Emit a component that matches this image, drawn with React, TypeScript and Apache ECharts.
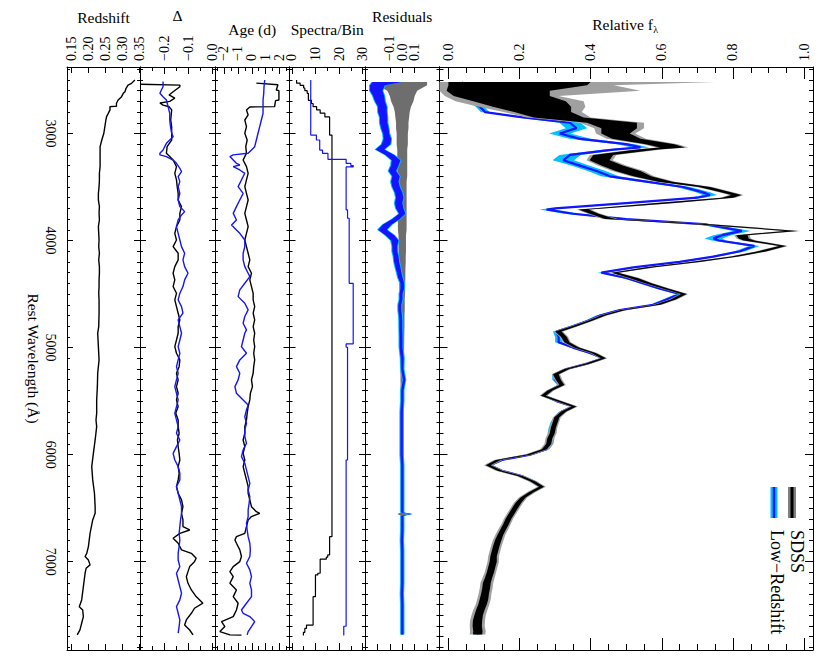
import React, { useEffect, useRef } from "react";
import * as echarts from "echarts";

const FONT = "'Liberation Serif','Times New Roman',Times,serif";

// ---------------- wavelength axis ----------------
const waveMin = 2379;
const waveMax = 7825;
const waveMajorTicks = [3000, 4000, 5000, 6000, 7000];

// ---------------- spectrum panel (Relative f_lambda) ----------------
const specWave = [
  2520, 2550, 2600, 2650, 2700, 2750, 2800, 2850, 2900, 2950,
  3000, 3050, 3100, 3130, 3150, 3200, 3250, 3300, 3350, 3400,
  3450, 3500, 3550, 3575, 3600, 3650, 3700, 3710, 3750, 3800,
  3850, 3910, 3950, 3980, 4000, 4050, 4100, 4150, 4200, 4250,
  4300, 4350, 4400, 4450, 4500, 4550, 4600, 4650, 4700, 4750,
  4800, 4850, 4900, 4950, 5000, 5050, 5100, 5150, 5200, 5250,
  5300, 5350, 5400, 5450, 5500, 5550, 5600, 5650, 5700, 5750,
  5800, 5850, 5900, 5950, 6000, 6050, 6100, 6150, 6200, 6250,
  6300, 6350, 6400, 6450, 6500, 6550, 6600, 6650, 6700, 6750,
  6800, 6850, 6900, 6950, 7000, 7050, 7100, 7150, 7200, 7250,
  7300, 7350, 7400, 7450, 7500, 7550, 7600, 7650, 7680,
];
const lowzFlux = [
  0.042, 0.035, 0.031, 0.037, 0.061, 0.089, 0.103, 0.21, 0.342, 0.36,
  0.313, 0.37, 0.5, 0.54, 0.463, 0.342, 0.323, 0.37, 0.417, 0.454,
  0.557, 0.66, 0.716, 0.735, 0.7, 0.5, 0.3, 0.276, 0.35, 0.5,
  0.726, 0.825, 0.77, 0.745, 0.76, 0.86, 0.82, 0.745, 0.65, 0.52,
  0.43, 0.5, 0.548, 0.595, 0.65, 0.613, 0.576, 0.482, 0.426, 0.393,
  0.35, 0.304, 0.31, 0.31, 0.35, 0.398, 0.435, 0.39, 0.332, 0.3,
  0.3, 0.314, 0.286, 0.27, 0.304, 0.35, 0.318, 0.304, 0.295, 0.29,
  0.287, 0.29, 0.287, 0.276, 0.23, 0.15, 0.117, 0.15, 0.206, 0.24,
  0.262, 0.234, 0.21, 0.197, 0.187, 0.178, 0.169, 0.162, 0.154, 0.145,
  0.14, 0.134, 0.131, 0.126, 0.126, 0.122, 0.117, 0.112, 0.108, 0.106,
  0.103, 0.1, 0.096, 0.089, 0.084, 0.081, 0.081, 0.084, 0.081,
];
const lowzErr = [
  0.01, 0.01, 0.01, 0.01, 0.01, 0.012, 0.012, 0.015, 0.03, 0.03,
  0.03, 0.03, 0.025, 0.025, 0.025, 0.03, 0.03, 0.025, 0.025, 0.025,
  0.02, 0.02, 0.02, 0.02, 0.02, 0.02, 0.02, 0.02, 0.025, 0.02,
  0.02, 0.025, 0.025, 0.025, 0.02, 0.015, 0.015, 0.012, 0.012, 0.012,
  0.01, 0.01, 0.01, 0.01, 0.01, 0.01, 0.01, 0.01, 0.01, 0.01,
  0.01, 0.01, 0.01, 0.01, 0.008, 0.008, 0.008, 0.008, 0.008, 0.008,
  0.008, 0.008, 0.008, 0.008, 0.008, 0.008, 0.008, 0.008, 0.008, 0.008,
  0.008, 0.008, 0.008, 0.008, 0.008, 0.008, 0.008, 0.008, 0.008, 0.008,
  0.008, 0.008, 0.008, 0.008, 0.008, 0.008, 0.008, 0.008, 0.008, 0.008,
  0.008, 0.008, 0.008, 0.008, 0.008, 0.008, 0.008, 0.008, 0.008, 0.008,
  0.008, 0.008, 0.008, 0.008, 0.008, 0.008, 0.008, 0.008, 0.008,
];
const sdssFlux = [
  0.2, 0.195, 0.14, 0.15, 0.2, 0.235, 0.265, 0.31, 0.46, 0.48,
  0.47, 0.5, 0.595, 0.63, 0.56, 0.435, 0.425, 0.46, 0.505, 0.545,
  0.61, 0.72, 0.78, 0.81, 0.785, 0.61, 0.42, 0.38, 0.41, 0.455,
  0.725, 0.965, 0.825, 0.83, 0.845, 0.94, 0.883, 0.805, 0.693, 0.568,
  0.468, 0.52, 0.562, 0.612, 0.662, 0.632, 0.588, 0.491, 0.435, 0.398,
  0.354, 0.309, 0.325, 0.333, 0.36, 0.408, 0.436, 0.39, 0.333, 0.302,
  0.309, 0.319, 0.286, 0.267, 0.309, 0.353, 0.323, 0.305, 0.3, 0.295,
  0.292, 0.285, 0.282, 0.27, 0.225, 0.14, 0.112, 0.145, 0.202, 0.238,
  0.262, 0.234, 0.21, 0.197, 0.187, 0.178, 0.169, 0.162, 0.154, 0.146,
  0.14, 0.135, 0.131, 0.127, 0.126, 0.122, 0.118, 0.113, 0.108, 0.106,
  0.103, 0.1, 0.096, 0.09, 0.085, 0.082, 0.081, 0.083, 0.082,
];
const sdssErr = [
  0.2, 0.195, 0.145, 0.135, 0.13, 0.11, 0.08, 0.07, 0.07, 0.05,
  0.04, 0.04, 0.04, 0.035, 0.03, 0.028, 0.028, 0.03, 0.035, 0.025,
  0.02, 0.016, 0.014, 0.014, 0.016, 0.025, 0.014, 0.014, 0.012, 0.015,
  0.022, 0.018, 0.016, 0.014, 0.015, 0.01, 0.012, 0.01, 0.013, 0.012,
  0.009, 0.012, 0.009, 0.008, 0.008, 0.007, 0.008, 0.007, 0.007, 0.006,
  0.007, 0.009, 0.008, 0.007, 0.007, 0.006, 0.007, 0.007, 0.007, 0.008,
  0.007, 0.007, 0.007, 0.007, 0.007, 0.007, 0.007, 0.007, 0.007, 0.007,
  0.007, 0.007, 0.007, 0.007, 0.007, 0.007, 0.007, 0.007, 0.007, 0.007,
  0.007, 0.007, 0.007, 0.008, 0.008, 0.008, 0.008, 0.008, 0.008, 0.008,
  0.009, 0.009, 0.009, 0.009, 0.01, 0.01, 0.01, 0.01, 0.011, 0.011,
  0.011, 0.012, 0.012, 0.012, 0.012, 0.013, 0.013, 0.013, 0.013,
];
const sdssGreyErr = [
  0.55, 0.27, 0.4, 0.16, 0.18, 0.15, 0.11, 0.09, 0.09, 0.07,
  0.055, 0.055, 0.05, 0.045, 0.04, 0.037, 0.037, 0.04, 0.045, 0.033,
  0.027, 0.022, 0.02, 0.02, 0.022, 0.032, 0.02, 0.02, 0.018, 0.021,
  0.03, 0.025, 0.022, 0.02, 0.021, 0.015, 0.017, 0.015, 0.018, 0.017,
  0.013, 0.017, 0.013, 0.012, 0.012, 0.011, 0.012, 0.011, 0.011, 0.01,
  0.011, 0.013, 0.012, 0.011, 0.011, 0.01, 0.011, 0.011, 0.011, 0.012,
  0.011, 0.011, 0.011, 0.011, 0.011, 0.011, 0.011, 0.011, 0.011, 0.011,
  0.012, 0.012, 0.012, 0.012, 0.012, 0.012, 0.012, 0.012, 0.012, 0.012,
  0.012, 0.012, 0.012, 0.013, 0.013, 0.013, 0.013, 0.013, 0.014, 0.014,
  0.015, 0.015, 0.015, 0.015, 0.016, 0.016, 0.016, 0.017, 0.018, 0.018,
  0.018, 0.019, 0.019, 0.02, 0.02, 0.021, 0.021, 0.022, 0.022,
];

// ---------------- residuals panel ----------------
const resWave = [
  2520, 2550, 2600, 2650, 2700, 2750, 2800, 2850, 2900, 2950,
  3000, 3050, 3100, 3150, 3200, 3250, 3300, 3350, 3400, 3450,
  3500, 3550, 3600, 3650, 3700, 3750, 3800, 3850, 3900, 3950,
  4000, 4050, 4100, 4150, 4200, 4250, 4300, 4350, 4400, 4450,
  4500, 4550, 4600, 4650, 4700, 4750, 4800, 4900, 5000, 5100,
  5200, 5300, 5400, 5500, 5600, 5700, 5800, 5900, 6000, 6100,
  6200, 6300, 6400, 6500, 6540, 6555, 6570, 6600, 6700, 6800,
  6900, 7000, 7100, 7200, 7300, 7400, 7500, 7600, 7680,
];
const resLowz = [
  -0.12, -0.2, -0.21, -0.19, -0.18, -0.16, -0.16, -0.15, -0.15, -0.14,
  -0.13, -0.12, -0.13, -0.18, -0.1, -0.05, -0.06, -0.08, -0.05, -0.06,
  -0.05, -0.03, -0.02, -0.03, -0.02, 0.0, -0.05, -0.12, -0.16, -0.1,
  -0.06, -0.06, -0.06, -0.05, -0.045, -0.035, -0.025, -0.015, 0.0, 0.0,
  -0.01, -0.01, -0.02, -0.02, -0.015, -0.012, -0.012, -0.01, -0.01, 0.0,
  0.0, 0.015, 0.0, 0.0, -0.005, -0.005, -0.005, -0.005, -0.005, 0.0,
  0.0, 0.0, 0.0, 0.0, 0.0, 0.07, 0.0, 0.0, 0.0, -0.003,
  0.0, 0.0, 0.0, 0.0, -0.003, 0.0, 0.0, 0.0, 0.0,
];
const resLowzScatter = [
  0.12, 0.06, 0.05, 0.045, 0.04, 0.035, 0.035, 0.03, 0.03, 0.03,
  0.025, 0.03, 0.035, 0.035, 0.035, 0.035, 0.03, 0.03, 0.03, 0.03,
  0.03, 0.03, 0.03, 0.03, 0.03, 0.025, 0.03, 0.035, 0.035, 0.035,
  0.03, 0.02, 0.02, 0.02, 0.02, 0.02, 0.018, 0.018, 0.015, 0.015,
  0.012, 0.012, 0.012, 0.012, 0.012, 0.012, 0.012, 0.012, 0.012, 0.012,
  0.01, 0.01, 0.01, 0.01, 0.01, 0.01, 0.01, 0.01, 0.01, 0.01,
  0.01, 0.01, 0.01, 0.01, 0.01, 0.01, 0.01, 0.01, 0.01, 0.01,
  0.01, 0.01, 0.01, 0.01, 0.01, 0.01, 0.01, 0.01, 0.01,
];
const resSdssErr = [
  0.2, 0.2, 0.12, 0.1, 0.09, 0.07, 0.06, 0.055, 0.05, 0.05,
  0.045, 0.045, 0.045, 0.04, 0.04, 0.04, 0.04, 0.04, 0.04, 0.035,
  0.035, 0.035, 0.035, 0.035, 0.035, 0.035, 0.035, 0.035, 0.035, 0.03,
  0.03, 0.03, 0.03, 0.028, 0.028, 0.026, 0.025, 0.025, 0.024, 0.022,
  0.022, 0.02, 0.02, 0.02, 0.018, 0.018, 0.018, 0.016, 0.015, 0.015,
  0.014, 0.014, 0.013, 0.013, 0.013, 0.012, 0.012, 0.012, 0.012, 0.012,
  0.011, 0.011, 0.011, 0.011, 0.011, 0.04, 0.011, 0.011, 0.011, 0.011,
  0.011, 0.011, 0.011, 0.011, 0.011, 0.011, 0.011, 0.011, 0.011,
];

// ---------------- spectra per bin (step edges; last edge closes the last bin) ----------------
const sdssBinEdges = [
  2500, 2530, 2550, 2575, 2600, 2625, 2690, 2720, 2750, 2780,
  2810, 2845, 3015, 6766, 6937, 6958, 6977, 7108, 7124, 7327,
  7592, 7623, 7660, 7690,
];
const sdssBinCounts = [
  2, 3.5, 5, 5.5, 6.5, 7, 8.3, 9, 10.5, 12,
  14, 16, 17, 16, 15.2, 14.6, 12, 11, 10, 9,
  6.2, 5.5, 4.9,
];
const lowzBinEdges = [
  2500, 3015, 3061, 3155, 3185, 3241, 3279, 3300, 3312, 3714,
  3792, 4400, 4966, 4997, 6050, 7603, 7690,
];
const lowzBinCounts = [
  8, 10.4, 11.8, 13, 15.3, 23, 25, 26, 23, 23.6,
  24.3, 26, 23, 23.6, 23, 22,
];

// ---------------- Age (d) ----------------
const ageSdssWave = [
  2530, 2545, 2594, 2600, 2687, 2693, 2749, 2752, 2780, 2827,
  2874, 2936, 2998, 3061, 3123, 3185, 3216, 3248, 3310, 3372,
  3434, 3497, 3559, 3621, 3683, 3746, 3808, 3870, 3933, 3995,
  4057, 4119, 4181, 4244, 4306, 4368, 4430, 4493, 4555, 4617,
  4679, 4742, 4804, 4866, 4929, 4991, 5053, 5115, 5178, 5240,
  5302, 5365, 5427, 5489, 5551, 5614, 5676, 5738, 5800, 5863,
  5925, 5988, 6050, 6112, 6174, 6236, 6299, 6361, 6423, 6486,
  6533, 6548, 6579, 6610, 6672, 6735, 6766, 6797, 6828, 6890,
  6952, 6999, 7046, 7093, 7140, 7202, 7264, 7326, 7388, 7451,
  7513, 7560, 7606, 7653, 7684, 7686,
];
const ageSdss = [
  0.33, 1.88, 1.76, 1.95, 1.95, 1.71, 1.64, -0.14, -0.38, -0.26,
  -0.5, -0.38, -0.5, -0.33, -0.43, -0.38, -0.5, -0.62, -0.38, -0.26,
  -0.38, -0.5, -0.38, -0.26, -0.38, -0.5, -0.38, -0.26, -0.38, -0.5,
  -0.38, -0.26, -0.14, -0.26, -0.02, -0.14, -0.02, 0.1, 0.1, 0.21,
  0.1, 0.21, 0.1, 0.21, 0.14, 0.21, 0.14, 0.21, 0.14, 0.1,
  -0.02, 0.05, -0.1, -0.14, -0.26, -0.33, -0.38, -0.5, -0.5, -0.62,
  -0.5, -0.62, -0.5, -0.62, -0.5, -0.38, -0.26, -0.26, -0.14, -0.02,
  0.33, 0.57, -0.02, -0.26, -0.38, -0.5, -1.1, -1.21, -1.1, -0.86,
  -0.74, -0.86, -1.33, -1.57, -1.33, -1.57, -1.1, -1.33, -0.98, -1.1,
  -1.33, -2.17, -1.93, -2.29, -1.57, -0.74,
];
const ageLowzWave = [
  2500, 2563, 2625, 2687, 2749, 2812, 2874, 2936, 2998, 3061,
  3123, 3154, 3185, 3200, 3216, 3248, 3279, 3294, 3310, 3341,
  3372, 3434, 3497, 3559, 3621, 3683, 3746, 3808, 3855, 3901,
  3933, 3995, 4057, 4119, 4181, 4244, 4306, 4337, 4399, 4461,
  4524, 4586, 4648, 4710, 4773, 4835, 4866, 4929, 4991, 5053,
  5115, 5178, 5240, 5302, 5365, 5427, 5489, 5536, 5583, 5645,
  5707, 5769, 5832, 5894, 5956, 6019, 6081, 6143, 6205, 6268,
  6330, 6392, 6454, 6517, 6579, 6641, 6704, 6766, 6828, 6890,
  6952, 7015, 7077, 7140, 7202, 7264, 7326, 7388, 7451, 7482,
  7513, 7560, 7606, 7653, 7684,
];
const ageLowz = [
  0.93, 0.88, 0.86, 0.81, 0.81, 0.81, 0.69, 0.57, 0.45, 0.33,
  0.21, -0.02, -0.26, -1.33, -1.57, -1.33, -1.1, -0.86, -1.33, -0.86,
  -0.5, -0.74, -0.98, -0.62, -0.86, -1.1, -1.33, -1.1, -1.45, -1.1,
  -0.86, -0.5, -0.5, -0.62, -0.62, -0.5, -0.26, -0.14, -0.5, -0.86,
  -0.98, -0.5, -0.26, -0.5, -0.62, -0.38, -0.5, -0.62, -0.74, -0.38,
  -0.86, -1.1, -0.86, -0.98, -1.21, -1.1, -0.62, -0.26, -0.38, -0.5,
  -0.38, -0.5, -0.5, -0.38, -0.62, -0.74, -0.5, -0.38, -0.26, -0.14,
  -0.26, -0.14, -0.19, -0.26, -0.26, -0.38, -0.33, -0.26, -0.14, -0.1,
  -0.14, -0.38, -0.14, -0.02, -0.14, -0.02, -0.02, -0.38, -0.74, -0.62,
  -0.14, 0.21, -0.02, -0.26, -0.33,
];

// ---------------- Delta ----------------
const deltaSdssWave = [
  2540, 2548, 2563, 2610, 2640, 2670, 2700, 2715, 2735, 2750,
  2780, 2874, 2936, 2998, 3061, 3123, 3185, 3216, 3248, 3310,
  3372, 3434, 3497, 3559, 3621, 3683, 3746, 3808, 3870, 3933,
  3995, 4057, 4119, 4181, 4244, 4306, 4368, 4430, 4493, 4555,
  4617, 4679, 4742, 4804, 4866, 4929, 4991, 5053, 5115, 5178,
  5240, 5302, 5365, 5427, 5489, 5551, 5614, 5676, 5738, 5800,
  5863, 5925, 5988, 6050, 6112, 6174, 6236, 6299, 6361, 6423,
  6486, 6548, 6610, 6672, 6704, 6735, 6781, 6828, 6890, 6922,
  6968, 7000, 7046, 7093, 7140, 7202, 7264, 7326, 7388, 7435,
  7482, 7544, 7591, 7638, 7684,
];
const deltaSdss = [
  -0.3, -0.137, -0.137, -0.165, -0.182, -0.158, -0.179, -0.22, -0.207, -0.182,
  -0.171, -0.175, -0.171, -0.171, -0.171, -0.19, -0.193, -0.179, -0.165, -0.151,
  -0.158, -0.151, -0.148, -0.144, -0.144, -0.13, -0.137, -0.137, -0.151, -0.158,
  -0.151, -0.165, -0.144, -0.144, -0.158, -0.165, -0.158, -0.165, -0.151, -0.158,
  -0.151, -0.144, -0.137, -0.144, -0.144, -0.151, -0.158, -0.151, -0.137, -0.14,
  -0.151, -0.144, -0.151, -0.144, -0.151, -0.144, -0.154, -0.144, -0.144, -0.14,
  -0.147, -0.144, -0.14, -0.137, -0.144, -0.14, -0.144, -0.151, -0.144, -0.13,
  -0.124, -0.13, -0.124, -0.124, -0.096, -0.137, -0.165, -0.144, -0.13, -0.089,
  -0.069, -0.076, -0.096, -0.103, -0.11, -0.103, -0.089, -0.069, -0.041, -0.076,
  -0.089, -0.11, -0.117, -0.096, -0.082,
];
const deltaLowzWave = [
  2515, 2563, 2594, 2625, 2656, 2687, 2749, 2812, 2874, 2936,
  2998, 3030, 3061, 3092, 3123, 3154, 3185, 3200, 3216, 3248,
  3279, 3325, 3356, 3403, 3450, 3497, 3559, 3621, 3683, 3730,
  3761, 3808, 3870, 3933, 3995, 4057, 4119, 4181, 4244, 4306,
  4368, 4430, 4493, 4555, 4617, 4679, 4742, 4804, 4866, 4929,
  4991, 5053, 5115, 5178, 5240, 5302, 5365, 5427, 5489, 5551,
  5614, 5676, 5738, 5800, 5863, 5925, 5988, 6050, 6112, 6174,
  6236, 6299, 6361, 6423, 6486, 6548, 6610, 6672, 6735, 6797,
  6859, 6922, 6984, 7046, 7108, 7171, 7233, 7295, 7357, 7420,
  7482, 7544, 7606, 7668,
];
const deltaLowz = [
  -0.207, -0.207, -0.214, -0.22, -0.207, -0.193, -0.186, -0.179, -0.179, -0.176,
  -0.171, -0.165, -0.179, -0.193, -0.2, -0.207, -0.22, -0.22, -0.193, -0.165,
  -0.151, -0.137, -0.13, -0.144, -0.137, -0.144, -0.137, -0.144, -0.137, -0.117,
  -0.13, -0.144, -0.151, -0.144, -0.137, -0.13, -0.117, -0.124, -0.117, -0.103,
  -0.117, -0.124, -0.137, -0.144, -0.13, -0.124, -0.144, -0.137, -0.13, -0.137,
  -0.144, -0.137, -0.144, -0.151, -0.144, -0.151, -0.158, -0.151, -0.144, -0.151,
  -0.158, -0.151, -0.144, -0.151, -0.137, -0.151, -0.165, -0.158, -0.144, -0.137,
  -0.137, -0.151, -0.144, -0.137, -0.13, -0.13, -0.134, -0.137, -0.14, -0.137,
  -0.14, -0.144, -0.144, -0.137, -0.151, -0.144, -0.137, -0.13, -0.137, -0.151,
  -0.144, -0.137, -0.14, -0.144,
];

// ---------------- Redshift ----------------
const zWave = [
  2500, 2532, 2548, 2578, 2610, 2625, 2656, 2687, 2718, 2745,
  2749, 2780, 2812, 2843, 2874, 2936, 2998, 3061, 3123, 3185,
  3248, 3310, 3372, 3434, 3497, 3559, 3621, 3683, 3746, 3808,
  3870, 3933, 3995, 4057, 4119, 4181, 4244, 4306, 4368, 4430,
  4493, 4555, 4679, 4804, 4866, 4991, 5115, 5240, 5365, 5489,
  5614, 5676, 5738, 5863, 5988, 6112, 6236, 6361, 6486, 6548,
  6610, 6735, 6859, 6922, 6952, 6984, 7030, 7062, 7108, 7233,
  7357, 7420, 7451, 7513, 7575, 7637, 7684,
];
const zMean = [
  0.337, 0.327, 0.317, 0.311, 0.308, 0.303, 0.298, 0.288, 0.283, 0.283,
  0.264, 0.264, 0.259, 0.254, 0.252, 0.249, 0.246, 0.24, 0.235, 0.235,
  0.235, 0.235, 0.233, 0.233, 0.232, 0.23, 0.23, 0.233, 0.232, 0.233,
  0.23, 0.231, 0.232, 0.231, 0.233, 0.231, 0.233, 0.233, 0.232, 0.232,
  0.231, 0.232, 0.232, 0.231, 0.228, 0.23, 0.232, 0.228, 0.227, 0.225,
  0.225, 0.223, 0.225, 0.2205, 0.2153, 0.2105, 0.2134, 0.2185, 0.2205, 0.2205,
  0.2134, 0.2056, 0.2007, 0.1959, 0.191, 0.2007, 0.2056, 0.194, 0.191, 0.186,
  0.181, 0.174, 0.184, 0.186, 0.181, 0.176, 0.168,
];

// ---------------- panel value axes (ticks / labels) ----------------
const panelTitles = ["Redshift", "\u0394", "Age (d)", "Spectra/Bin", "Residuals", "Relative f"];
const redshiftTicks = [0.15, 0.2, 0.25, 0.3, 0.35];
const deltaTicks = [-0.2, -0.1, 0];
const deltaMinor = [-0.25, -0.15, -0.05];
const ageTicks = [-2, -1, 0, 1, 2];
const ageMinor = [-2.5, -1.5, -0.5, 0.5, 1.5, 2.5];
const binTicks = [0, 10, 20, 30];
const binMinor = [5, 15, 25];
const residTicks = [-0.2, -0.1, 0, 0.1, 0.2];
const fluxTicks = [0, 0.2, 0.4, 0.6, 0.8, 1.0];
const fluxMinor = [0.05, 0.1, 0.15, 0.25, 0.3, 0.35, 0.45, 0.5, 0.55, 0.65, 0.7, 0.75, 0.85, 0.9, 0.95];

// ---------------- layout / style ----------------
const edges = [67, 140, 215, 289.5, 365, 439.5, 813];
const TOP = 67;
const BOTTOM = 650;
const BLUE = "#1414ff";
const CYAN = "#00c0ff";

type Panel = {
  min: number; max: number; major: number[]; minor: number[]; digits: number;
  majLen: number; minLen: number; titleY: number;
};
const panels: Panel[] = [
  { min: 0.138, max: 0.352, major: redshiftTicks, minor: [], digits: 2, majLen: 6, minLen: 3, titleY: 17 },
  { min: -0.303, max: 0.0095, major: deltaTicks, minor: deltaMinor, digits: 1, majLen: 7, minLen: 4, titleY: 15 },
  { min: -2.64, max: 2.71, major: ageTicks, minor: ageMinor, digits: 0, majLen: 7, minLen: 4, titleY: 29 },
  { min: -1, max: 31, major: binTicks, minor: binMinor, digits: 0, majLen: 7, minLen: 4, titleY: 29 },
  { min: -0.3, max: 0.3, major: residTicks, minor: [], digits: 1, majLen: 6, minLen: 3, titleY: 16 },
  { min: -0.025, max: 1.025, major: fluxTicks, minor: fluxMinor, digits: 1, majLen: 12, minLen: 6, titleY: 24 },
];

function fmt(v: number, d: number) {
  const s = Math.abs(v).toFixed(d);
  return v < -1e-9 ? "\u2212" + s : s;
}

function waveMinorTicks() {
  const t: number[] = [];
  for (let w = 2400; w <= 7800; w += 100) if (w % 1000 !== 0) t.push(w);
  return t;
}

function valAxis(p: Panel, i: number, position: string, ticks: number[], len: number, labels: boolean, line: boolean) {
  return {
    type: "value", gridIndex: i, position, min: p.min, max: p.max,
    axisLine: { show: line, onZero: false, lineStyle: { color: "#000", width: 1 } },
    axisTick: { show: ticks.length > 0, inside: true, length: len, customValues: ticks.length ? ticks : undefined, lineStyle: { color: "#000", width: 1 } },
    axisLabel: labels
      ? { show: true, customValues: p.major, rotate: -90, margin: 6, hideOverlap: false, fontFamily: FONT, fontSize: 14, color: "#000", formatter: (v: number) => fmt(v, p.digits) }
      : { show: false },
    splitLine: { show: false },
  };
}

function waveAxis(i: number, position: string, ticks: number[], len: number, labels: boolean, line: boolean) {
  return {
    type: "value", gridIndex: i, position, inverse: true, min: waveMin, max: waveMax,
    axisLine: { show: line, onZero: false, lineStyle: { color: "#000", width: 1 } },
    axisTick: { show: true, inside: true, length: len, customValues: ticks, lineStyle: { color: "#000", width: 1 } },
    axisLabel: labels
      ? { show: true, customValues: waveMajorTicks, rotate: -90, margin: 10, fontFamily: FONT, fontSize: 14, color: "#000", formatter: (v: number) => String(v) }
      : { show: false },
    splitLine: { show: false },
  };
}

function clampTo(v: number, p: Panel) {
  return Math.max(p.min, Math.min(p.max, v));
}

function bandSeries(i: number, wave: number[], lo: number[], hi: number[], color: string, z: number) {
  const p = panels[i];
  return {
    type: "custom", xAxisIndex: 4 * i, yAxisIndex: 4 * i, coordinateSystem: "cartesian2d",
    clip: true, silent: true, z,
    data: [[clampTo(lo[0], p), wave[0]]],
    renderItem: (_params: any, api: any) => {
      const pts: number[][] = [];
      for (let k = 0; k < wave.length; k++) pts.push(api.coord([clampTo(hi[k], p), wave[k]]));
      for (let k = wave.length - 1; k >= 0; k--) pts.push(api.coord([clampTo(lo[k], p), wave[k]]));
      return { type: "polygon", shape: { points: pts }, style: { fill: color, stroke: null } };
    },
  };
}

function lineSeries(i: number, pts: number[][], color: string, width: number, z: number) {
  return {
    type: "line", xAxisIndex: 4 * i, yAxisIndex: 4 * i, data: pts,
    showSymbol: false, symbol: "none", clip: true, silent: true, z,
    lineStyle: { color, width }, animation: false,
  };
}

function pairs(wave: number[], vals: number[]) {
  return wave.map((w, k) => [vals[k], w]);
}

function steps(edgesW: number[], counts: number[]) {
  const pts: number[][] = [];
  for (let k = 0; k < counts.length; k++) {
    pts.push([counts[k], edgesW[k]]);
    pts.push([counts[k], edgesW[k + 1]]);
  }
  return pts;
}

function textStyle(text: string, size: number, align: string) {
  return {
    text, fontFamily: FONT, fontSize: size, fontWeight: "normal", fill: "#000",
    align, verticalAlign: "middle", textAlign: align, textVerticalAlign: "middle",
  };
}

function buildOption() {
  const grid: any[] = [];
  const xAxis: any[] = [];
  const yAxis: any[] = [];
  const minorW = waveMinorTicks();
  panels.forEach((p, i) => {
    grid.push({ left: edges[i], top: TOP, width: edges[i + 1] - edges[i], height: BOTTOM - TOP, show: false });
    xAxis.push(valAxis(p, i, "top", p.major, p.majLen, true, true));
    xAxis.push(valAxis(p, i, "top", p.minor, p.minLen, false, false));
    xAxis.push(valAxis(p, i, "bottom", p.major, p.majLen, false, true));
    xAxis.push(valAxis(p, i, "bottom", p.minor, p.minLen, false, false));
    const big = i === 5;
    const wMaj = big ? 8 : 6;
    const wMin = big ? 4 : 3;
    yAxis.push(waveAxis(i, "left", waveMajorTicks, wMaj, i === 0, true));
    yAxis.push(waveAxis(i, "left", minorW, wMin, false, false));
    yAxis.push(waveAxis(i, "right", waveMajorTicks, wMaj, false, true));
    yAxis.push(waveAxis(i, "right", minorW, wMin, false, false));
  });

  const series: any[] = [];
  // Redshift
  series.push(lineSeries(0, pairs(zWave, zMean), "#000", 1.4, 5));
  // Delta
  series.push(lineSeries(1, pairs(deltaSdssWave, deltaSdss), "#000", 1.4, 5));
  series.push(lineSeries(1, pairs(deltaLowzWave, deltaLowz), BLUE, 1.4, 6));
  // Age
  series.push(lineSeries(2, pairs(ageSdssWave, ageSdss), "#000", 1.4, 5));
  series.push(lineSeries(2, pairs(ageLowzWave, ageLowz), BLUE, 1.4, 6));
  // Spectra / Bin
  series.push(lineSeries(3, steps(sdssBinEdges, sdssBinCounts), "#000", 1.2, 5));
  series.push(lineSeries(3, steps(lowzBinEdges, lowzBinCounts), BLUE, 1.2, 6));
  // Residuals
  series.push(bandSeries(4, resWave, resSdssErr.map((e) => -e), resSdssErr, "#6e6e6e", 2));
  series.push(bandSeries(4, resWave, resLowz.map((v, k) => v - resLowzScatter[k] - 0.008), resLowz.map((v, k) => v + resLowzScatter[k] + 0.008), CYAN, 3));
  series.push(bandSeries(4, resWave, resLowz.map((v, k) => v - resLowzScatter[k]), resLowz.map((v, k) => v + resLowzScatter[k]), BLUE, 4));
  // Relative flux
  series.push(bandSeries(5, specWave, lowzFlux.map((v, k) => v - lowzErr[k]), lowzFlux.map((v, k) => v + lowzErr[k]), CYAN, 2));
  series.push(lineSeries(5, pairs(specWave, lowzFlux), BLUE, 2.2, 3));
  series.push(bandSeries(5, specWave, sdssFlux.map((v, k) => v - sdssGreyErr[k]), sdssFlux.map((v, k) => v + sdssGreyErr[k]), "#a0a0a0", 4));
  series.push(bandSeries(5, specWave, sdssFlux.map((v, k) => v - sdssErr[k]), sdssFlux.map((v, k) => v + sdssErr[k]), "#000", 5));

  const graphic: any[] = [];
  panels.forEach((p, i) => {
    const cx = (edges[i] + edges[i + 1]) / 2;
    if (i === 5) {
      graphic.push({ type: "text", x: cx - 34, y: p.titleY, silent: true, style: textStyle(panelTitles[i], 15.5, "left") });
      graphic.push({ type: "text", x: cx + 27, y: p.titleY + 5, silent: true, style: textStyle("\u03bb", 10, "left") });
    } else {
      graphic.push({ type: "text", x: cx, y: p.titleY, silent: true, style: textStyle(panelTitles[i], 15.5, "center") });
    }
  });
  graphic.push({
    type: "text", x: 33, y: (TOP + BOTTOM) / 2, rotation: -Math.PI / 2, silent: true,
    style: textStyle("Rest Wavelength (\u00c5)", 15.5, "center"),
  });
  // legend
  graphic.push({ type: "rect", shape: { x: 770.5, y: 487, width: 7, height: 31 }, style: { fill: CYAN }, silent: true });
  graphic.push({ type: "rect", shape: { x: 772.8, y: 487, width: 2.4, height: 31 }, style: { fill: BLUE }, silent: true });
  graphic.push({ type: "rect", shape: { x: 788, y: 487, width: 8, height: 31 }, style: { fill: "#808080" }, silent: true });
  graphic.push({ type: "rect", shape: { x: 790.5, y: 487, width: 3, height: 31 }, style: { fill: "#000" }, silent: true });
  graphic.push({ type: "text", x: 797, y: 530, rotation: -Math.PI / 2, silent: true, style: textStyle("SDSS", 18, "left") });
  graphic.push({ type: "text", x: 777, y: 530, rotation: -Math.PI / 2, silent: true, style: textStyle("Low\u2212Redshift", 18, "left") });

  return { animation: false, backgroundColor: "#fff", grid, xAxis, yAxis, series, graphic };
}

export default function App() {
  const ref = useRef<HTMLDivElement>(null);
  useEffect(() => {
    if (!ref.current) return;
    const chart = echarts.init(ref.current, null, { renderer: "svg", width: 830, height: 664 });
    chart.setOption(buildOption() as any);
    return () => chart.dispose();
  }, []);
  return <div ref={ref} style={{ position: "absolute", left: 0, top: 0, width: 830, height: 664, background: "#fff" }} />;
}
